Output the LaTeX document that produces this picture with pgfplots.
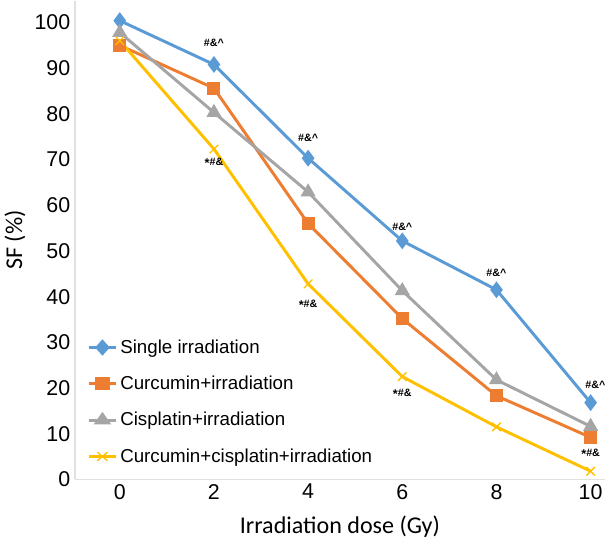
\documentclass[border=0pt]{standalone}
\usepackage{fontspec}
\setmainfont{Liberation Sans}
\newfontfamily\labelfont{Carlito}
\usepackage{pgfplots}
\pgfplotsset{compat=1.18}
\definecolor{cblue}{RGB}{91,155,213}
\definecolor{corange}{RGB}{237,125,49}
\definecolor{cgray}{RGB}{165,165,165}
\definecolor{cyellow}{RGB}{255,192,0}
\newcommand{\sigstar}{\raisebox{-0.35ex}{\fontsize{9.5}{10}\selectfont *}}
\begin{document}
\begin{tikzpicture}
\begin{axis}[
    scale only axis,
    width=396pt,height=358pt,
    xmin=-0.95,xmax=10.3,ymin=0,ymax=104.8,
    xtick={0,2,4,6,8,10},
    ytick={0,10,...,100},
    axis x line*=bottom,axis y line*=left,
    axis line style={black!12,line width=0.8pt},
    major tick length=0pt,
    tick label style={font=\fontsize{16}{18}\selectfont},
    /pgf/number format/assume math mode=true,
    xlabel={\labelfont\fontsize{18}{20}\selectfont Irradiation dose (Gy)},
    ylabel={\labelfont\fontsize{18}{20}\selectfont SF (\%)},
    xlabel style={inner xsep=0pt,inner ysep=1.5pt,yshift=-7.5pt},
    legend style={draw=none,fill=none,at={(0.015,0.02)},anchor=south west,
        font=\fontsize{14}{16}\selectfont,row sep=11.5pt},
    legend cell align=left,
    legend image post style={xscale=1.2},
    every axis plot/.append style={line width=2.2pt},
]
\addplot[cblue,mark=diamond*,mark size=4.5pt] coordinates {
    (0,100.4) (2,90.8) (4,70.3) (6,52.2) (8,41.5) (10,16.8)
};
\addlegendentry{Single irradiation}
\addplot[corange,mark=square*,mark size=3.8pt] coordinates {
    (0,95.0) (2,85.6) (4,56.0) (6,35.2) (8,18.3) (10,9.2)
};
\addlegendentry{Curcumin+irradiation}
\addplot[cgray,mark=triangle*,mark size=4.3pt] coordinates {
    (0,97.8) (2,80.3) (4,62.9) (6,41.3) (8,21.8) (10,11.6)
};
\addlegendentry{Cisplatin+irradiation}
\addplot[cyellow,mark=x,mark size=4.5pt,mark options={line width=1pt}] coordinates {
    (0,96.0) (2,72.3) (4,42.8) (6,22.5) (8,11.5) (10,1.8)
};
\addlegendentry{Curcumin+cisplatin+irradiation}
\begin{scope}[every node/.style={font=\bfseries\fontsize{8}{9}\selectfont}]
\node at (axis cs:2,95.5) {\#\&\^{}};
\node at (axis cs:4,74.8) {\#\&\^{}};
\node at (axis cs:6,55.2) {\#\&\^{}};
\node at (axis cs:8,45.3) {\#\&\^{}};
\node at (axis cs:10.1,20.7) {\#\&\^{}};
\node at (axis cs:2,69.2) {\sigstar\#\&};
\node at (axis cs:4,38.3) {\sigstar\#\&};
\node at (axis cs:6,18.7) {\sigstar\#\&};
\node at (axis cs:10,5.6) {\sigstar\#\&};
\end{scope}
\end{axis}
\end{tikzpicture}
\end{document}
